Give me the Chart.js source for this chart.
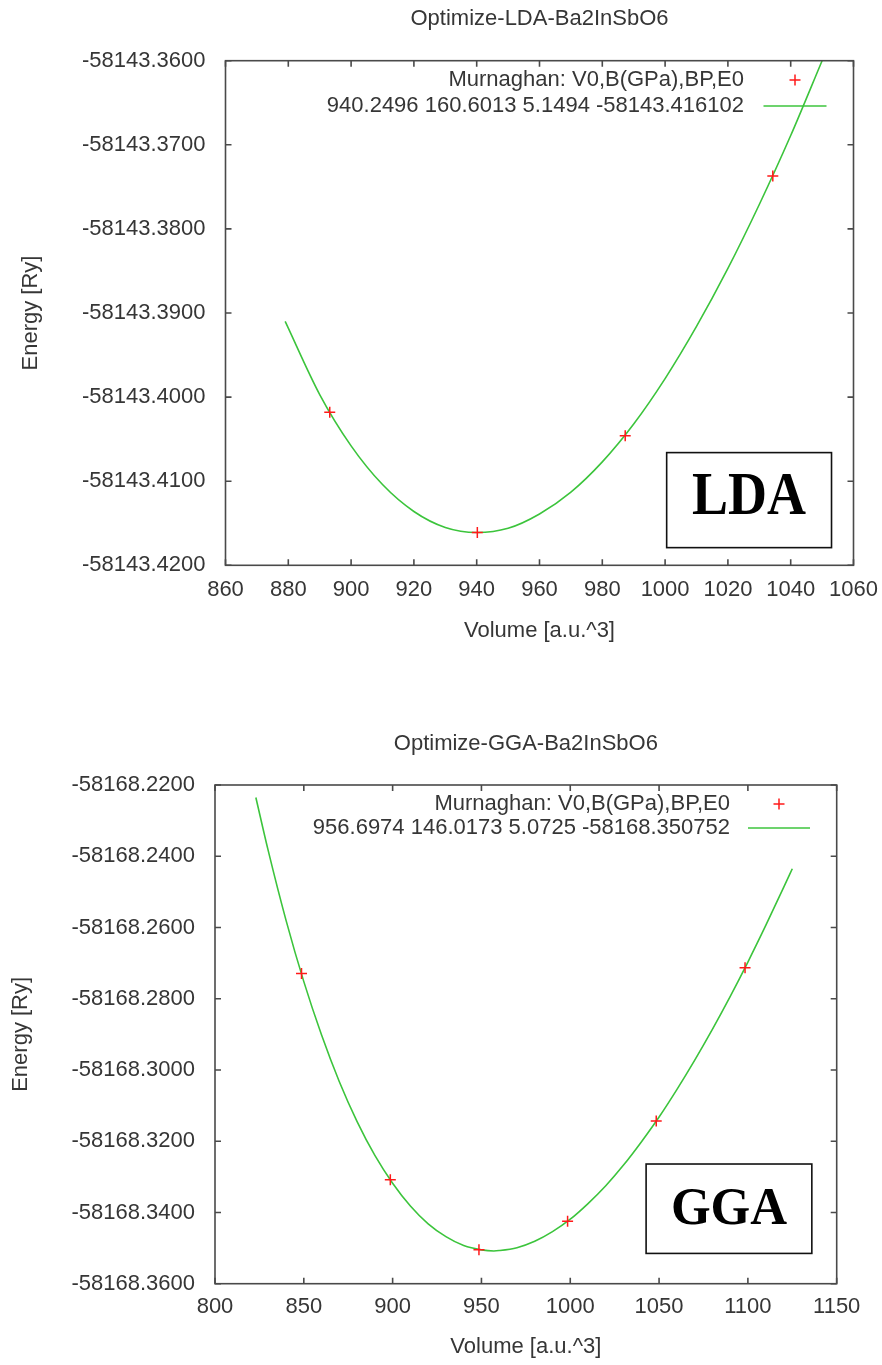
<!DOCTYPE html>
<html>
<head>
<meta charset="utf-8">
<script src="https://cdn.jsdelivr.net/npm/chart.js@4.4.0/dist/chart.umd.min.js"></script>
<style>
  html, body { margin: 0; padding: 0; background: #ffffff; }
  body { width: 882px; height: 1365px; position: relative; overflow: hidden; }
  .panel { position: absolute; left: 0; width: 882px; }
  canvas { display: block; }
</style>
</head>
<body>
<div class="panel" style="top:0;height:680px"><canvas id="ldaChart" width="882" height="680"></canvas></div>
<div class="panel" style="top:680px;height:685px"><canvas id="ggaChart" width="882" height="685"></canvas></div>
<script>
// ---------- LDA: computed total energies and Murnaghan fit ----------
const ldaVolume = [893.2, 940.2, 987.3, 1034.3];
const ldaEnergy = [-58143.4018, -58143.4161, -58143.4046, -58143.3737];
const ldaFitVolume = [879, 890, 900, 910, 920, 930, 940, 950, 960, 970, 980, 990, 1000, 1010, 1020, 1030, 1040, 1050];
const ldaFitEnergy = [-58143.3910, -58143.3997, -58143.4058, -58143.4104, -58143.4136, -58143.4155, -58143.4161,
                      -58143.4156, -58143.4139, -58143.4113, -58143.4077, -58143.4032, -58143.3978, -58143.3916,
                      -58143.3847, -58143.3771, -58143.3689, -58143.3600];
const ldaFitLabel = '940.2496 160.6013 5.1494 -58143.416102';
const ldaVolumeTicks = [860, 880, 900, 920, 940, 960, 980, 1000, 1020, 1040, 1060];
const ldaEnergyTicks = [-58143.42, -58143.41, -58143.40, -58143.39, -58143.38, -58143.37, -58143.36];

// ---------- GGA: computed total energies and Murnaghan fit ----------
const ggaVolume = [848.7, 898.7, 948.6, 998.5, 1048.4, 1098.4];
const ggaEnergy = [-58168.2729, -58168.3308, -58168.3505, -58168.3425, -58168.3143, -58168.2713];
const ggaFitVolume = [823, 830, 840, 850, 860, 870, 880, 890, 900, 910, 920, 930, 940, 950, 957, 960, 970, 980,
                      990, 1000, 1010, 1020, 1030, 1040, 1050, 1060, 1070, 1080, 1090, 1100, 1110, 1120, 1125];
const ggaFitEnergy = [-58168.2235, -58168.2385, -58168.2580, -58168.2752, -58168.2902, -58168.3033, -58168.3145,
                      -58168.3240, -58168.3318, -58168.3382, -58168.3432, -58168.3468, -58168.3493, -58168.3505,
                      -58168.3508, -58168.3507, -58168.3499, -58168.3481, -58168.3454, -58168.3419, -58168.3375,
                      -58168.3325, -58168.3267, -58168.3202, -58168.3132, -58168.3055, -58168.2973, -58168.2886,
                      -58168.2794, -58168.2697, -58168.2595, -58168.2489, -58168.2435];
const ggaFitLabel = '956.6974 146.0173 5.0725 -58168.350752';
const ggaVolumeTicks = [800, 850, 900, 950, 1000, 1050, 1100, 1150];
const ggaEnergyTicks = [-58168.36, -58168.34, -58168.32, -58168.30, -58168.28, -58168.26, -58168.24, -58168.22];

const pointsLabel = 'Murnaghan: V0,B(GPa),BP,E0';

const SANS = '"Liberation Sans", Arial, sans-serif';
const TEXT = '#363636';
const FRAME = '#4a4a4a';
const RED = '#ff1a1a';
const GREEN = '#3cc43c';

const pairs = (xs, ys) => xs.map((v, i) => ({ x: v, y: ys[i] }));

// Frame around the plot area with inward tick marks on all four sides
const frameTicks = {
  id: 'frameTicks',
  afterDatasetsDraw(chart, args, o) {
    const { ctx, chartArea: a, scales: { x, y } } = chart;
    ctx.save();
    ctx.strokeStyle = o.color;
    ctx.lineWidth = o.width;
    ctx.beginPath();
    x.ticks.forEach(t => {
      const px = x.getPixelForValue(t.value);
      ctx.moveTo(px, a.bottom); ctx.lineTo(px, a.bottom - o.length);
      ctx.moveTo(px, a.top); ctx.lineTo(px, a.top + o.length);
    });
    y.ticks.forEach(t => {
      const py = y.getPixelForValue(t.value);
      ctx.moveTo(a.left, py); ctx.lineTo(a.left + o.length, py);
      ctx.moveTo(a.right, py); ctx.lineTo(a.right - o.length, py);
    });
    ctx.stroke();
    ctx.strokeRect(a.left, a.top, a.right - a.left, a.bottom - a.top);
    ctx.restore();
  }
};

// Key inside the plot: right-aligned text followed by the dataset sample
const keyBox = {
  id: 'keyBox',
  afterDraw(chart, args, o) {
    const ctx = chart.ctx;
    ctx.save();
    ctx.font = o.font;
    ctx.fillStyle = o.color;
    ctx.textAlign = 'right';
    ctx.textBaseline = 'middle';
    chart.data.datasets.forEach((ds, i) => {
      const yy = o.rows[i];
      ctx.fillText(ds.label, o.textRight, yy);
      ctx.strokeStyle = ds.borderColor;
      ctx.lineWidth = ds.borderWidth;
      ctx.beginPath();
      if (ds.showLine) {
        ctx.moveTo(o.sampleX - o.half, yy);
        ctx.lineTo(o.sampleX + o.half, yy);
      } else {
        const r = ds.pointRadius;
        ctx.moveTo(o.sampleX - r, yy); ctx.lineTo(o.sampleX + r, yy);
        ctx.moveTo(o.sampleX, yy - r); ctx.lineTo(o.sampleX, yy + r);
      }
      ctx.stroke();
    });
    ctx.restore();
  }
};

// Boxed method tag placed in data coordinates
const tagBox = {
  id: 'tagBox',
  afterDraw(chart, args, o) {
    const { ctx, scales: { x, y } } = chart;
    const l = x.getPixelForValue(o.x0), r = x.getPixelForValue(o.x1);
    const t = y.getPixelForValue(o.y0), b = y.getPixelForValue(o.y1);
    ctx.save();
    ctx.fillStyle = '#ffffff';
    ctx.fillRect(l, t, r - l, b - t);
    ctx.strokeStyle = '#111111';
    ctx.lineWidth = 1.6;
    ctx.strokeRect(l, t, r - l, b - t);
    ctx.font = 'bold ' + o.size + 'px "Liberation Serif", "Times New Roman", serif';
    ctx.fillStyle = '#000000';
    ctx.textAlign = 'center';
    ctx.textBaseline = 'alphabetic';
    ctx.translate((l + r) / 2, (t + b) / 2 + o.dy);
    ctx.scale(1, o.sy);
    ctx.fillText(o.text, 0, o.size * 0.662 / 2);
    ctx.restore();
  }
};

function makeChart(id, cfg) {
  const datasets = [
    {
      label: pointsLabel,
      data: pairs(cfg.vol, cfg.energy),
      showLine: false,
      pointStyle: 'cross',
      pointRadius: 5.5,
      pointBorderWidth: 1.5,
      borderColor: RED,
      backgroundColor: RED,
      borderWidth: 1.5,
      order: 0
    },
    {
      label: cfg.fitLabel,
      data: pairs(cfg.fitVol, cfg.fitEnergy),
      showLine: true,
      pointRadius: 0,
      borderColor: GREEN,
      backgroundColor: GREEN,
      borderWidth: 1.6,
      cubicInterpolationMode: 'monotone',
      order: 1
    }
  ];
  return new Chart(document.getElementById(id), {
    type: 'scatter',
    data: { datasets },
    plugins: [frameTicks, keyBox, tagBox],
    options: {
      responsive: false,
      animation: false,
      devicePixelRatio: 1,
      layout: { padding: { top: 0, left: 0, bottom: 0, right: cfg.padRight } },
      plugins: {
        legend: { display: false },
        tooltip: { enabled: false },
        title: {
          display: true,
          text: cfg.title,
          fullSize: false,
          color: TEXT,
          font: { family: SANS, size: 22, weight: 'normal' },
          padding: { top: cfg.titleTop, bottom: cfg.titleBottom }
        },
        frameTicks: { color: FRAME, width: 1.6, length: 6 },
        keyBox: cfg.key,
        tagBox: cfg.tag
      },
      scales: {
        x: {
          type: 'linear',
          min: cfg.xTicks[0],
          max: cfg.xTicks[cfg.xTicks.length - 1],
          grid: { display: false, drawTicks: false, tickLength: 0 },
          border: { display: false },
          afterBuildTicks: s => { s.ticks = cfg.xTicks.map(v => ({ value: v })); },
          afterFit: s => {
            s.height = cfg.xHeight;
            // end labels may overhang the frame; keep the plot width fixed
            s.paddingLeft = 0;
            s.paddingRight = 0;
          },
          ticks: {
            color: TEXT,
            font: { family: SANS, size: 22 },
            padding: cfg.xTickPad,
            maxRotation: 0,
            autoSkip: false,
            callback: v => String(v)
          },
          title: {
            display: true,
            text: 'Volume [a.u.^3]',
            color: TEXT,
            font: { family: SANS, size: 22 },
            padding: { top: 0, bottom: cfg.xTitlePad }
          }
        },
        y: {
          type: 'linear',
          min: cfg.yTicks[0],
          max: cfg.yTicks[cfg.yTicks.length - 1],
          grid: { display: false, drawTicks: false, tickLength: 0 },
          border: { display: false },
          afterBuildTicks: s => { s.ticks = cfg.yTicks.map(v => ({ value: v })); },
          afterFit: s => { s.width = cfg.yWidth; },
          ticks: {
            color: TEXT,
            font: { family: SANS, size: 22 },
            padding: 20,
            autoSkip: false,
            callback: v => Number(v).toFixed(4)
          },
          title: {
            display: true,
            text: 'Energy [Ry]',
            color: TEXT,
            font: { family: SANS, size: 22 },
            padding: { top: cfg.yTitlePad, bottom: 0 }
          }
        }
      }
    }
  });
}

makeChart('ldaChart', {
  title: 'Optimize-LDA-Ba2InSbO6',
  vol: ldaVolume, energy: ldaEnergy,
  fitVol: ldaFitVolume, fitEnergy: ldaFitEnergy, fitLabel: ldaFitLabel,
  xTicks: ldaVolumeTicks, yTicks: ldaEnergyTicks,
  padRight: 28.5, titleTop: 5.8, titleBottom: 28.5,
  yWidth: 225.5, xHeight: 114.7, xTickPad: 11.5, xTitlePad: 35.8, yTitlePad: 17.8,
  key: { font: '22px ' + SANS, color: TEXT, textRight: 744, sampleX: 795, half: 31.5, rows: [80, 106] },
  tag: { text: 'LDA', x0: 1000.5, x1: 1053.0, y0: -58143.4066, y1: -58143.4179, size: 54, sy: 1.13, dy: -6 }
});

makeChart('ggaChart', {
  title: 'Optimize-GGA-Ba2InSbO6',
  vol: ggaVolume, energy: ggaEnergy,
  fitVol: ggaFitVolume, fitEnergy: ggaFitEnergy, fitLabel: ggaFitLabel,
  xTicks: ggaVolumeTicks, yTicks: ggaEnergyTicks,
  padRight: 45.3, titleTop: 50.8, titleBottom: 27.8,
  yWidth: 215, xHeight: 81.3, xTickPad: 10.1, xTitlePad: 4.8, yTitlePad: 7.8,
  key: { font: '22px ' + SANS, color: TEXT, textRight: 730, sampleX: 779, half: 31, rows: [124, 148] },
  tag: { text: 'GGA', x0: 1042.7, x1: 1136.0, y0: -58168.3264, y1: -58168.3515, size: 51, sy: 1.05, dy: -2.7 }
});
</script>
</body>
</html>
